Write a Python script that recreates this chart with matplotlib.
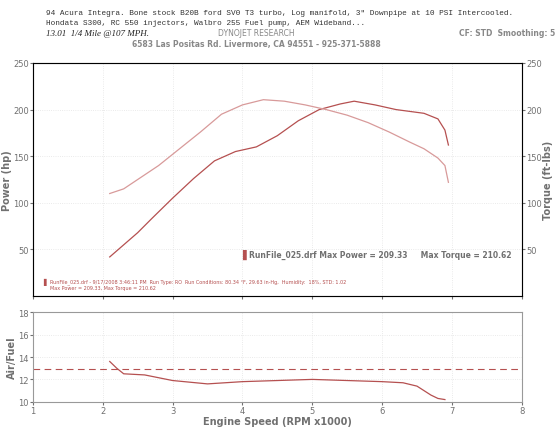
import matplotlib
matplotlib.use("Agg")
import matplotlib.pyplot as plt

rpm_p = [2.1, 2.3, 2.5, 2.7, 3.0, 3.3, 3.6, 3.9, 4.2, 4.5, 4.8, 5.1, 5.4, 5.6, 5.9, 6.2, 6.4, 6.6, 6.8, 6.9, 6.95]
power = [42, 55, 68, 83, 105, 126, 145, 155, 160, 172, 188, 200, 206, 209, 205, 200, 198, 196, 190, 178, 162]
rpm_t = [2.1, 2.3, 2.5, 2.8, 3.1, 3.4, 3.7, 4.0, 4.3, 4.6, 4.9, 5.2, 5.5, 5.8, 6.1, 6.4, 6.6, 6.8, 6.9, 6.95]
torque = [110, 115, 125, 140, 158, 176, 195, 205, 210.6, 209, 205, 200, 194, 186, 176, 165, 158, 148, 140, 122]
rpm_a = [2.1, 2.2, 2.3, 2.6, 3.0, 3.5, 4.0, 4.5, 5.0, 5.5, 6.0, 6.3, 6.5, 6.6, 6.7, 6.8, 6.9]
afr = [13.6, 13.0, 12.5, 12.4, 11.9, 11.6, 11.8, 11.9, 12.0, 11.9, 11.8, 11.7, 11.4, 11.0, 10.6, 10.3, 10.2]
afr_ref = 12.9

red = "#b55050"
pink = "#d89a9a"
grey = "#707070"
fig = plt.figure(figsize=(5.58, 4.35), dpi=100)
fig.patch.set_facecolor("white")

ax = fig.add_axes([0.059, 0.317, 0.876, 0.536])
ax.plot(rpm_p, power, color=red, lw=0.9)
ax2 = ax.twinx()
ax2.plot(rpm_t, torque, color=pink, lw=0.9)
for a in (ax, ax2):
    a.set_xlim(1, 8)
    a.set_ylim(0, 250)
    a.set_yticks([50, 100, 150, 200, 250])
    a.tick_params(labelsize=6, colors=grey, length=2, pad=1)
ax.set_xticks(range(1, 9))
ax.set_xticklabels([])
ax.grid(color="#e3e3e3", ls=":", lw=0.6)
ax.set_ylabel("Power (hp)", fontsize=7, color=grey, fontweight="bold", labelpad=1)
ax2.set_ylabel("Torque (ft-lbs)", fontsize=7, color=grey, fontweight="bold", labelpad=1)
for s in ax.spines.values():
    s.set_color("#999999")
ax.text(4.0, 45, "\u258c", color=red, fontsize=7, va="center")
ax.text(4.1, 45, "RunFile_025.drf Max Power = 209.33     Max Torque = 210.62",
        fontsize=5.5, color=grey, fontweight="bold", va="center")
ax.text(1.15, 16, "\u258c", color=red, fontsize=5, va="center")
ax.text(1.25, 16, "RunFile_025.drf - 9/17/2008 3:46:11 PM  Run Type: RO  Run Conditions: 80.34 \u00b0F, 29.63 in-Hg,  Humidity:  18%, STD: 1.02",
        fontsize=3.5, color=red, va="center")
ax.text(1.25, 9, "Max Power = 209.33, Max Torque = 210.62", fontsize=3.5, color=red, va="center")

bx = fig.add_axes([0.059, 0.074, 0.876, 0.206])
bx.plot(rpm_a, afr, color=red, lw=0.9)
bx.axhline(afr_ref, color=red, ls=(0, (6, 4)), lw=0.8)
bx.set_xlim(1, 8)
bx.set_ylim(10, 18)
bx.set_yticks([10, 12, 14, 16, 18])
bx.set_xticks(range(1, 9))
bx.tick_params(labelsize=6, colors=grey, length=2, pad=1)
bx.grid(color="#e3e3e3", ls=":", lw=0.6)
bx.set_ylabel("Air/Fuel", fontsize=7, color=grey, fontweight="bold", labelpad=1)
bx.set_xlabel("Engine Speed (RPM x1000)", fontsize=7, color=grey, fontweight="bold", labelpad=1)
for s in bx.spines.values():
    s.set_color("#999999")

mono = "Liberation Mono"
fig.text(0.082, 0.965, "94 Acura Integra. Bone stock B20B ford SV0 T3 turbo, Log manifold, 3\" Downpipe at 10 PSI Intercooled.",
         fontsize=5.6, family=mono, color="#333333")
fig.text(0.082, 0.942, "Hondata S300, RC 550 injectors, Walbro 255 Fuel pump, AEM Wideband...",
         fontsize=5.6, family=mono, color="#333333")
fig.text(0.082, 0.918, "13.01  1/4 Mile @107 MPH.", fontsize=6.5, family="Liberation Serif",
         style="italic", color="#222222")
fig.text(0.46, 0.918, "DYNOJET RESEARCH", fontsize=5.5, color="#888888", ha="center")
fig.text(0.995, 0.918, "CF: STD  Smoothing: 5", fontsize=5.5, color="#888888", ha="right", fontweight="bold")
fig.text(0.46, 0.893, "6583 Las Positas Rd. Livermore, CA 94551 - 925-371-5888", fontsize=5.5,
         color="#888888", ha="center", fontweight="bold")

fig.savefig("out.png", dpi=100)
